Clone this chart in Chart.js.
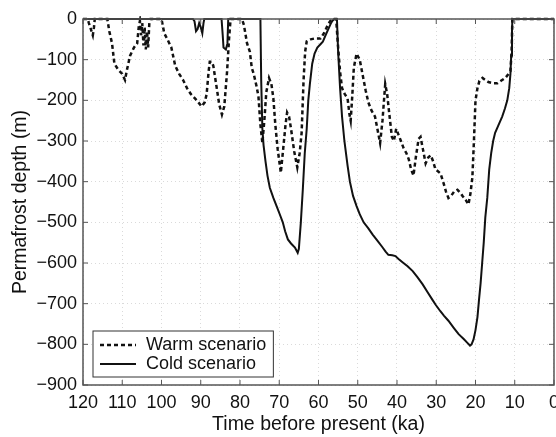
<!DOCTYPE html>
<html lang="en">
<head>
    <meta charset="UTF-8">
    <title>Permafrost depth</title>
    <script src="https://cdn.jsdelivr.net/npm/chart.js"></script>
    <style>
        body {
            margin: 0;
            background: white;
            overflow: hidden;
        }
    </style>
</head>
<body>
    <canvas id="permafrostChart" width="566" height="437"></canvas>

    <script>
        // time before present (ka) and depth (m)
        const warmAge = [120, 118.8, 118.5, 118, 117.5, 117.2, 117, 113.8, 113.3, 112.6, 112, 111, 110, 109.3, 108.8, 108, 107, 106.2, 105.8, 105.5, 105.2, 104.9, 104.6, 104.3, 104, 103.7, 103.4, 103.1, 102.8, 100, 99.3, 98.5, 97.5, 96.5, 95.5, 94.5, 93.5, 92.5, 91, 89.8, 89, 88.5, 88, 87.7, 87.2, 86.8, 86, 85.3, 84.6, 84, 83.3, 82.8, 82.4, 79.5, 79, 78.2, 77.5, 77, 76.5, 75.8, 75.3, 74.8, 74.3, 73.8, 73.3, 72.6, 72, 71.5, 71, 70.4, 69.6, 69, 68.4, 68, 67.5, 67, 66.2, 65.4, 64.8, 64.3, 63.8, 63.4, 63, 62, 61, 59.5, 58.6, 57.5, 57, 56.5, 55.5, 55, 54.5, 54, 53.3, 52.6, 52.1, 51.8, 51.4, 51, 50.3, 49.5, 48.5, 48, 47.3, 46.5, 45.6, 45, 44.3, 43.7, 43, 42.5, 42, 41.3, 40.8, 40.2, 39.6, 39, 38.3, 37.6, 37, 36.4, 35.8, 35.2, 34.5, 34, 33.4, 32.7, 32, 31.4, 30.8, 30.2, 29.5, 28.9, 28.1, 27.5, 26.9, 26.2, 25.5, 24.6, 23.8, 23.3, 22.5, 21.8, 21.3, 20.8, 20.4, 20, 19.5, 19, 18.2, 17.5, 16.7, 15.5, 14.4, 13.5, 12.4, 11.8, 11.1, 10.8, 10.6, 0];
        const warmDepth = [0, 0, -10, -25, -40, -20, 0, 0, -30, -60, -110, -125, -135, -150, -125, -90, -70, -60, -20, -5, -40, -10, -65, -20, -75, -30, -70, -10, 0, 0, -35, -50, -70, -115, -135, -150, -170, -185, -200, -215, -205, -185, -130, -105, -105, -115, -165, -210, -235, -215, -130, -50, 0, 0, -15, -60, -80, -120, -135, -165, -190, -260, -305, -250, -180, -145, -160, -195, -260, -320, -378, -320, -260, -230, -240, -270, -325, -365, -330, -280, -150, -80, -55, -50, -48, -48, -35, -12, -5, 0, 0, -70, -130, -170, -185, -195, -235, -250, -190, -120, -85, -100, -150, -175, -205, -225, -240, -270, -305, -250, -160, -185, -230, -290, -300, -270, -285, -300, -318, -330, -345, -370, -385, -340, -295, -290, -320, -355, -340, -335, -350, -370, -375, -380, -405, -425, -440, -435, -425, -420, -428, -435, -445, -456, -430, -390, -300, -200, -170, -152, -145, -150, -155, -158, -158, -152, -145, -138, -128, -80, 0, 0];

        const coldAge = [120, 92, 91.6, 91.2, 90.8, 90.4, 90, 89.6, 89.3, 89.1, 84.7, 84.4, 84.2, 83.6, 83.2, 83, 74.8, 74.6, 74.3, 74, 73.5, 73, 72.4, 71.5, 70.6, 69.8, 69.1, 68.5, 67.8, 67, 66, 65.3, 65, 64.5, 64, 63.5, 63, 62.6, 62.2, 61.6, 61, 60.3, 59.5, 58.9, 58.2, 57.5, 56.9, 56.5, 56, 55.3, 55, 54.5, 54, 53.4, 52.6, 52, 51.2, 50.3, 49.5, 48.5, 47.3, 46.2, 45, 43.8, 42.9, 42.2, 41.2, 40.4, 39.6, 38.6, 37.3, 36, 34.8, 33.5, 32.2, 31, 30.2, 29, 28, 26.9, 25.5, 24.3, 23, 22, 21.4, 21, 20.5, 20, 19.5, 19.1, 18.7, 18.3, 17.9, 17.5, 17, 16.5, 16, 15.5, 15, 14.2, 13.2, 12.5, 11.9, 11.4, 11.1, 10.9, 10.7, 10.6, 0];
        const coldDepth = [0, 0, -5, -30, -25, -10, -20, -35, -10, 0, 0, -40, -70, -75, -60, 0, 0, -150, -270, -310, -350, -385, -415, -440, -462, -482, -500, -522, -542, -552, -562, -575, -565, -500, -420, -330, -270, -200, -160, -110, -85, -70, -62, -56, -40, -25, -12, -5, 0, 0, -80, -170, -240, -300, -360, -400, -435, -460, -480, -500, -515, -530, -545, -560, -572, -580, -581, -583, -590, -598, -608, -620, -635, -652, -672, -690, -702, -718, -730, -742, -760, -775, -787, -797, -803, -800, -788, -765, -733, -690, -650, -600, -550, -488, -440, -370, -330, -300, -280, -262, -240, -220, -200, -170, -135, -90, -30, 0, 0];

        const seriesLabels = ["Warm scenario", "Cold scenario"];

        const fontFamily = "'Liberation Sans', Arial, sans-serif";
        const tickFont = { family: fontFamily, size: 18 };
        const titleFont = { family: fontFamily, size: 19.5 };

        function toPoints(xs, ys) {
            return xs.map((x, i) => ({ x: x, y: ys[i] }));
        }

        // box round the plot, inward ticks and the legend inside the axes
        const framePlugin = {
            id: "frame",
            afterDraw(chart) {
                let ctx = chart.ctx;
                let ca = chart.chartArea;
                let xs = chart.scales.x;
                let ys = chart.scales.y;

                ctx.save();
                ctx.strokeStyle = "#555";
                ctx.lineWidth = 1.5;
                ctx.strokeRect(ca.left, ca.top, ca.right - ca.left, ca.bottom - ca.top);

                ctx.lineWidth = 1;
                ctx.beginPath();
                xs.ticks.forEach(t => {
                    let px = xs.getPixelForValue(t.value);
                    ctx.moveTo(px, ca.bottom);
                    ctx.lineTo(px, ca.bottom - 5);
                    ctx.moveTo(px, ca.top);
                    ctx.lineTo(px, ca.top + 5);
                });
                ys.ticks.forEach(t => {
                    let py = ys.getPixelForValue(t.value);
                    ctx.moveTo(ca.left, py);
                    ctx.lineTo(ca.left + 5, py);
                    ctx.moveTo(ca.right, py);
                    ctx.lineTo(ca.right - 5, py);
                });
                ctx.stroke();

                // legend
                ctx.font = "18px " + fontFamily;
                let textW = Math.max(...chart.data.datasets.map(d => ctx.measureText(d.label).width));
                let bx = ca.left + 10;
                let bh = 46;
                let by = ca.bottom - 8 - bh;
                let bw = 7 + 36 + 10 + textW + 7;
                ctx.fillStyle = "white";
                ctx.fillRect(bx, by, bw, bh);
                ctx.strokeStyle = "#333";
                ctx.lineWidth = 1;
                ctx.strokeRect(bx, by, bw, bh);

                chart.data.datasets.forEach((d, i) => {
                    let ly = by + 14 + i * 19;
                    ctx.strokeStyle = d.borderColor;
                    ctx.lineWidth = d.borderWidth;
                    ctx.setLineDash(d.borderDash || []);
                    ctx.beginPath();
                    ctx.moveTo(bx + 7, ly);
                    ctx.lineTo(bx + 43, ly);
                    ctx.stroke();
                    ctx.setLineDash([]);
                    ctx.fillStyle = "#111";
                    ctx.textBaseline = "middle";
                    ctx.textAlign = "left";
                    ctx.fillText(d.label, bx + 53, ly);
                });
                ctx.restore();
            }
        };

        let ctx = document.getElementById("permafrostChart").getContext("2d");
        new Chart(ctx, {
            type: "line",
            data: {
                datasets: [
                    {
                        label: seriesLabels[0],
                        data: toPoints(warmAge, warmDepth),
                        borderColor: "#111",
                        borderWidth: 2.5,
                        borderDash: [4, 3],
                        pointRadius: 0,
                        tension: 0,
                        clip: 3
                    },
                    {
                        label: seriesLabels[1],
                        data: toPoints(coldAge, coldDepth),
                        borderColor: "#111",
                        borderWidth: 2,
                        pointRadius: 0,
                        tension: 0,
                        clip: 3
                    }
                ]
            },
            options: {
                responsive: false,
                animation: false,
                layout: {
                    padding: { top: 19, right: 11, bottom: 0, left: 0 }
                },
                plugins: {
                    legend: { display: false },
                    tooltip: { enabled: false }
                },
                scales: {
                    x: {
                        type: "linear",
                        reverse: true,
                        min: 0,
                        max: 120,
                        ticks: {
                            stepSize: 10,
                            color: "#111",
                            font: tickFont,
                            padding: 7,
                            maxRotation: 0
                        },
                        grid: { color: "#dadada", drawTicks: false },
                        border: { display: false, dash: [1, 3] },
                        title: {
                            display: true,
                            text: "Time before present (ka)",
                            color: "#111",
                            font: titleFont,
                            padding: { top: 0, bottom: 1 }
                        },
                        afterFit(scale) {
                            scale.height = 52;
                        }
                    },
                    y: {
                        min: -900,
                        max: 0,
                        ticks: {
                            stepSize: 100,
                            color: "#111",
                            font: tickFont,
                            padding: 6,
                            callback: v => String(v).replace("-", "\u2212")
                        },
                        grid: { color: "#dadada", drawTicks: false },
                        border: { display: false, dash: [1, 3] },
                        title: {
                            display: true,
                            text: "Permafrost depth (m)",
                            color: "#111",
                            font: titleFont,
                            padding: { top: 9, bottom: 0 }
                        },
                        afterFit(scale) {
                            scale.width = 83;
                        }
                    }
                }
            },
            plugins: [framePlugin]
        });
    </script>
</body>
</html>
